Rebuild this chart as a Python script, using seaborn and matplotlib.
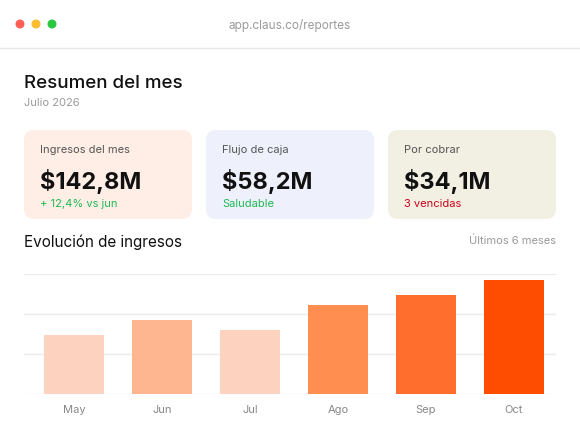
import matplotlib
matplotlib.use("Agg")
import matplotlib.pyplot as plt
import seaborn as sns
import pandas as pd
from matplotlib.patches import FancyBboxPatch, Circle

months = ["May", "Jun", "Jul", "Ago", "Sep", "Oct"]
values = [59, 74, 64, 89, 99, 114]
bar_colors = ["#FDD3C0", "#FDB68F", "#FDD3C0", "#FF8E50", "#FF6E2C", "#FF4D00"]
card_labels = ["Ingresos del mes", "Flujo de caja", "Por cobrar"]
card_values = ["$142,8M", "$58,2M", "$34,1M"]
card_notes = ["+ 12,4% vs jun", "Saludable", "3 vencidas"]
card_note_colors = ["#1DB954", "#1DB954", "#D0021B"]
card_bg = ["#FFEEE6", "#EEF0FB", "#F2EFE3"]

sns.set_theme(style="white")
plt.rcParams['font.family'] = ['Inter', 'DejaVu Sans']

fig = plt.figure(figsize=(5.8, 4.4), dpi=100)
bg = fig.add_axes([0, 0, 1, 1])
bg.set_xlim(0, 580); bg.set_ylim(440, 0); bg.axis("off")

for x, c in zip([20, 36, 52], ["#FF5F57", "#FEBC2E", "#28C840"]):
    bg.add_patch(Circle((x, 24), 3.8, color=c))
bg.text(290, 25, "app.claus.co/reportes", ha="center", va="center", fontsize=8.5, color="#9A9A9A")
bg.plot([0, 580], [48, 48], color="#E8E8E8", lw=1)

bg.text(24, 84, "Resumen del mes", fontsize=13.5, fontweight="medium", color="#111111", va="center")
bg.text(24, 103, "Julio 2026", fontsize=8, color="#999999", va="center")

for i, x0 in enumerate([24, 206, 388]):
    bg.add_patch(FancyBboxPatch((x0, 130), 168, 89, boxstyle="round,pad=0,rounding_size=10",
                                fc=card_bg[i], ec="none"))
    bg.text(x0 + 16, 150, card_labels[i], fontsize=8, color="#555555", va="center")
    bg.text(x0 + 16, 182, card_values[i], fontsize=17, fontweight="bold", color="#111111", va="center")
    bg.text(x0 + 16, 204, card_notes[i], fontsize=8, color=card_note_colors[i], va="center")

bg.text(24, 242, "Evolución de ingresos", fontsize=11, color="#111111", va="center")
bg.text(556, 241, "Últimos 6 meses", fontsize=8, color="#999999", va="center", ha="right")

ax = fig.add_axes([24/580, 1 - 394/440, 532/580, 120/440])
df = pd.DataFrame({"month": months, "value": values})
sns.barplot(data=df, x="month", y="value", hue="month", palette=bar_colors, legend=False,
            width=0.68, ax=ax, saturation=1)
for p in ax.patches:
    p.set_edgecolor("none")
ax.set_ylim(0, 120)
ax.set_xlim(-50/88, 482/88)
ax.set_yticks([0, 40, 80, 120])
ax.yaxis.grid(True, color="#EBEBEB", lw=1)
ax.set_axisbelow(True)
ax.tick_params(axis="y", left=False, labelleft=False)
ax.tick_params(axis="x", length=0, labelsize=8, labelcolor="#888888", pad=8)
ax.set_xlabel(""); ax.set_ylabel("")
for s in ax.spines.values():
    s.set_visible(False)
ax.patch.set_alpha(0)

fig.savefig("out.png", dpi=100)
